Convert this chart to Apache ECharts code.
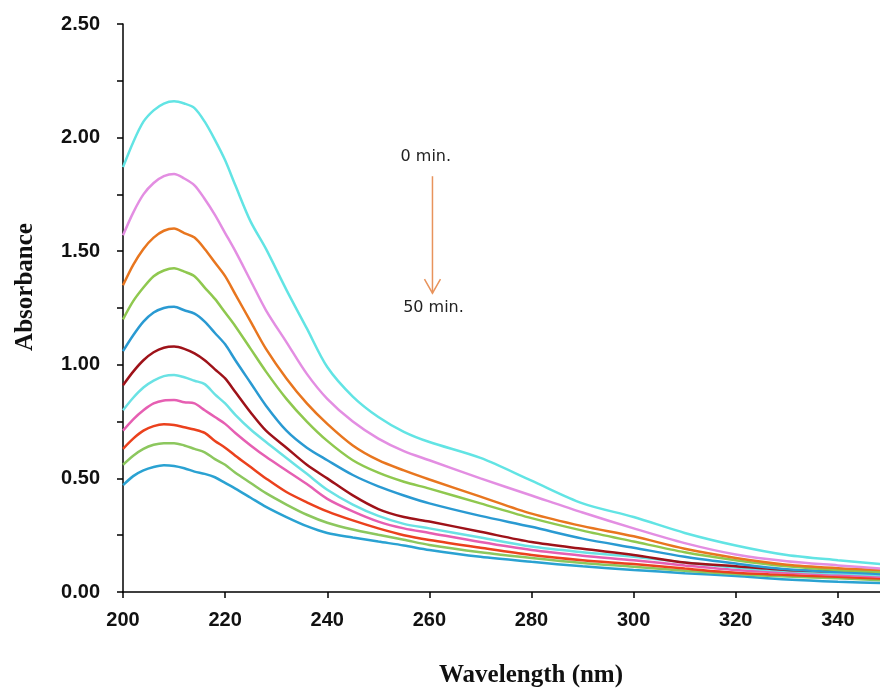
<!DOCTYPE html>
<html>
<head>
<meta charset="utf-8">
<style>
html,body{margin:0;padding:0;background:#fff;}
#chart{width:880px;height:689px;}
</style>
<script src="https://cdn.jsdelivr.net/npm/echarts@6/dist/echarts.min.js"></script>
</head>
<body>
<div id="chart"></div>
<script>
// Wavelength (nm)
const wavelengths = [200,202,204,206,208,210,212,214,216,218,220,222,225,228,232,236,240,245,250,255,260,270,280,290,300,310,320,330,340,350];

// Absorbance curves, 0 min (top) to 50 min (bottom)
const abs0min  = [1.87,1.98,2.07,2.12,2.15,2.16,2.15,2.13,2.07,1.99,1.90,1.79,1.63,1.51,1.33,1.16,0.99,0.86,0.77,0.705,0.66,0.59,0.49,0.39,0.33,0.26,0.205,0.163,0.14,0.12];
const abs5min  = [1.57,1.67,1.75,1.80,1.83,1.84,1.82,1.79,1.73,1.66,1.58,1.50,1.37,1.24,1.10,0.96,0.85,0.75,0.675,0.62,0.58,0.50,0.425,0.35,0.28,0.215,0.165,0.135,0.117,0.10];
const abs10min = [1.35,1.44,1.51,1.56,1.59,1.60,1.58,1.56,1.51,1.45,1.39,1.31,1.19,1.07,0.94,0.83,0.74,0.645,0.58,0.535,0.495,0.42,0.345,0.29,0.245,0.19,0.15,0.12,0.105,0.095];
const abs15min = [1.20,1.28,1.34,1.39,1.415,1.425,1.41,1.39,1.34,1.29,1.23,1.17,1.07,0.97,0.85,0.75,0.665,0.58,0.525,0.485,0.455,0.39,0.325,0.27,0.222,0.175,0.14,0.113,0.097,0.087];
const abs20min = [1.06,1.13,1.19,1.23,1.25,1.255,1.24,1.225,1.19,1.14,1.09,1.02,0.92,0.82,0.71,0.635,0.58,0.515,0.465,0.425,0.39,0.335,0.287,0.235,0.195,0.155,0.125,0.10,0.088,0.078];
const abs25min = [0.91,0.97,1.02,1.055,1.075,1.08,1.07,1.05,1.02,0.98,0.94,0.88,0.79,0.71,0.635,0.56,0.50,0.425,0.365,0.33,0.31,0.265,0.22,0.19,0.163,0.13,0.113,0.097,0.09,0.085];
const abs30min = [0.80,0.855,0.90,0.93,0.95,0.955,0.945,0.93,0.915,0.87,0.83,0.78,0.715,0.66,0.59,0.52,0.45,0.385,0.335,0.30,0.28,0.24,0.20,0.175,0.155,0.13,0.108,0.092,0.082,0.072];
const abs35min = [0.71,0.76,0.80,0.83,0.843,0.845,0.835,0.83,0.80,0.77,0.74,0.70,0.645,0.595,0.535,0.475,0.41,0.355,0.31,0.28,0.26,0.22,0.185,0.16,0.14,0.117,0.097,0.085,0.075,0.066];
const abs40min = [0.63,0.675,0.71,0.73,0.738,0.735,0.725,0.715,0.70,0.665,0.635,0.60,0.55,0.50,0.44,0.395,0.355,0.315,0.28,0.25,0.229,0.195,0.163,0.14,0.123,0.103,0.085,0.075,0.067,0.058];
const abs45min = [0.56,0.60,0.63,0.648,0.655,0.655,0.645,0.63,0.615,0.585,0.56,0.525,0.48,0.435,0.385,0.34,0.305,0.275,0.252,0.23,0.207,0.175,0.15,0.128,0.111,0.093,0.079,0.068,0.06,0.05];
const abs50min = [0.47,0.51,0.535,0.55,0.558,0.555,0.545,0.53,0.52,0.505,0.48,0.455,0.415,0.375,0.33,0.29,0.26,0.24,0.222,0.205,0.185,0.155,0.133,0.113,0.097,0.083,0.07,0.055,0.045,0.038];

const seriesNames = ['0 min','5 min','10 min','15 min','20 min','25 min','30 min','35 min','40 min','45 min','50 min'];
const seriesValues = [abs0min,abs5min,abs10min,abs15min,abs20min,abs25min,abs30min,abs35min,abs40min,abs45min,abs50min];
const seriesColors = ['#62e4e4','#e38ee2','#e8761f','#8fc84f','#2a9ad2','#9e1219','#6ae2e4','#e65fb2','#eb411d','#8cc75e','#2aa2d2'];

const yTicks = ['0.00','0.50','1.00','1.50','2.00','2.50'];
const xTicks = ['200','220','240','260','280','300','320','340'];

const chart = echarts.init(document.getElementById('chart'), null, {renderer:'canvas'});

const series = seriesValues.map((vals, i) => ({
  name: seriesNames[i],
  type: 'line',
  data: wavelengths.map((w, j) => [w, vals[j]]),
  showSymbol: false,
  smooth: 0.3,
  lineStyle: {width: 2.5, color: seriesColors[i]},
  itemStyle: {color: seriesColors[i]},
  z: 2 + (seriesValues.length - i),
  animation: false
}));

chart.setOption({
  backgroundColor: '#ffffff',
  animation: false,
  grid: {left: 123, top: 24, right: -9, bottom: 97, outerBoundsMode: 'none', containLabel: false},
  xAxis: {
    type: 'value', min: 200, max: 350, interval: 20,
    axisLine: {show: true, lineStyle: {color: '#000', width: 1.5}},
    axisTick: {show: true, inside: false, length: 6, lineStyle: {color: '#000', width: 1.5}},
    axisLabel: {
      show: true, margin: 18, showMaxLabel: false, color: '#111',
      fontFamily: 'Liberation Sans, Arial, sans-serif', fontWeight: 'bold', fontSize: 20,
      formatter: v => xTicks.indexOf(String(v)) >= 0 ? String(v) : ''
    },
    splitLine: {show: false}
  },
  yAxis: {
    type: 'value', min: 0, max: 2.5, interval: 0.25,
    axisLine: {show: true, lineStyle: {color: '#000', width: 1.5}},
    axisTick: {show: true, inside: false, length: 6, lineStyle: {color: '#000', width: 1.5}},
    axisLabel: {
      show: true, margin: 23, color: '#111',
      fontFamily: 'Liberation Sans, Arial, sans-serif', fontWeight: 'bold', fontSize: 20,
      formatter: v => { const s = v.toFixed(2); return yTicks.indexOf(s) >= 0 ? s : ''; }
    },
    splitLine: {show: false}
  },
  series: series
});

// Annotations in data coordinates
const arrowStart = [260.6, 1.83];
const arrowEnd = [260.6, 1.315];
const label0 = {text: '0 min.', at: [259.3, 1.915]};
const label50 = {text: '50 min.', at: [260.8, 1.25]};

const p0 = chart.convertToPixel({gridIndex: 0}, arrowStart);
const p1 = chart.convertToPixel({gridIndex: 0}, arrowEnd);
const l0 = chart.convertToPixel({gridIndex: 0}, label0.at);
const l50 = chart.convertToPixel({gridIndex: 0}, label50.at);
const arrowColor = '#e8935c';

chart.setOption({
  graphic: [
    {type: 'line', shape: {x1: p0[0], y1: p0[1], x2: p1[0], y2: p1[1]}, style: {stroke: arrowColor, lineWidth: 1.5}, z: 100},
    {type: 'polyline', shape: {points: [[p1[0]-8, p1[1]-14], [p1[0], p1[1]], [p1[0]+8, p1[1]-14]]}, style: {stroke: arrowColor, lineWidth: 1.5, fill: null}, z: 100},
    {type: 'text', x: l0[0], y: l0[1], style: {text: label0.text, fill: '#222', font: '16px "DejaVu Sans", Verdana, sans-serif', align: 'center', verticalAlign: 'middle'}, z: 100},
    {type: 'text', x: l50[0], y: l50[1], style: {text: label50.text, fill: '#222', font: '16px "DejaVu Sans", Verdana, sans-serif', align: 'center', verticalAlign: 'middle'}, z: 100},
    {type: 'text', x: 531, y: 676, style: {text: 'Wavelength (nm)', fill: '#111', font: 'bold 25px "Liberation Serif", "Times New Roman", serif', align: 'center', verticalAlign: 'middle'}, z: 100},
    {type: 'text', x: 26, y: 287, rotation: Math.PI / 2, style: {text: 'Absorbance', fill: '#111', font: 'bold 25px "Liberation Serif", "Times New Roman", serif', align: 'center', verticalAlign: 'middle'}, z: 100}
  ]
});
</script>
</body>
</html>
